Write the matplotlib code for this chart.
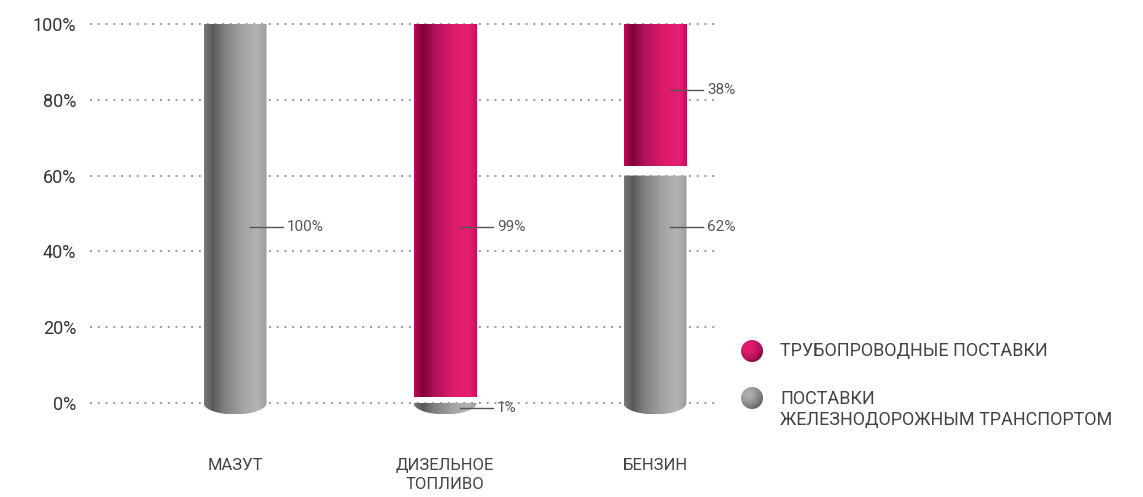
import matplotlib.pyplot as plt
import numpy as np
from matplotlib.colors import LinearSegmentedColormap
from matplotlib.patches import Polygon, Circle

plt.rcParams['font.family'] = ['Roboto', 'DejaVu Sans']

#--------------------------------------------#
# Data
#--------------------------------------------#
categories = ['МАЗУТ', 'ДИЗЕЛЬНОЕ\nТОПЛИВО', 'БЕНЗИН']
rail_share = [100, 1, 62]       # поставки железнодорожным транспортом
pipe_share = [0, 99, 38]        # трубопроводные поставки
series_names = ['ТРУБОПРОВОДНЫЕ ПОСТАВКИ',
                'ПОСТАВКИ\nЖЕЛЕЗНОДОРОЖНЫМ ТРАНСПОРТОМ']
yticks = [0, 20, 40, 60, 80, 100]

# where the value callouts sit (in % of the axis)
rail_label_y = [46.4, -1.3, 46.4]
pipe_label_y = [None, 46.4, 82.6]

#--------------------------------------------#
# Colours: horizontal shading across a cylinder
#--------------------------------------------#
gray_cmap = LinearSegmentedColormap.from_list('cyl_gray', [
    (0.00, '#7a7a7a'), (0.14, '#585858'), (0.30, '#7c7c7c'),
    (0.60, '#a2a2a2'), (0.85, '#b3b3b3'), (1.00, '#9c9c9c')])
pink_cmap = LinearSegmentedColormap.from_list('cyl_pink', [
    (0.00, '#c2075e'), (0.14, '#7e0238'), (0.32, '#b1115a'),
    (0.65, '#dd1c6b'), (0.88, '#e61f70'), (1.00, '#cc0a5f')])
shade = np.linspace(0, 1, 256).reshape(1, -1)

W, H = 1143, 497
fig = plt.figure(figsize=(W / 100, H / 100), dpi=100)

# axis box in pixels: x 90..720, 0% at y=403, 100% at y=24
ppu = (403 - 24) / 100.0
ylo, yhi = -4, 101
ax = fig.add_axes([90 / W, (H - (403 - ylo * ppu)) / H,
                   630 / W, (yhi - ylo) * ppu / H])
x = np.arange(len(categories))
step = 210.0                       # pixels between bar centres
xlim = (-145 / step, 2 + 65 / step)
bw = 63 / step
cap = 3.0                          # depth of the rounded bottom
gap = 2.0

for s in ax.spines.values():
    s.set_visible(False)
ax.set_xticks([])
ax.set_yticks(yticks)
ax.set_yticklabels([f'{v}%' for v in yticks], fontsize=13, color='#333333')
ax.tick_params(axis='y', length=0, pad=10)
ax.hlines(yticks, xlim[0], xlim[1], colors='#9a9a9a',
          linestyles=(0, (1, 3)), linewidth=1.4, zorder=1)


def cylinder(xc, y0, y1, cmap, rounded):
    # gradient image clipped to the bar outline
    left, right = xc - bw / 2, xc + bw / 2
    pts = [(left, y1), (left, y0)]
    if rounded:
        t = np.linspace(np.pi, 2 * np.pi, 60)
        pts += list(zip(xc + bw / 2 * np.cos(t), y0 + cap * np.sin(t)))
    pts += [(right, y0), (right, y1)]
    outline = Polygon(pts, closed=True, facecolor='none', edgecolor='none',
                      transform=ax.transData)
    ax.add_patch(outline)
    bottom = y0 - cap if rounded else y0
    im = ax.imshow(shade, cmap=cmap, aspect='auto', interpolation='bilinear',
                   extent=[left, right, bottom, y1], zorder=2)
    im.set_clip_path(outline)


def callout(xc, y, text):
    ax.plot([xc + 15 / step, xc + 48 / step], [y, y], color='#555555',
            lw=1, zorder=3, clip_on=False)
    ax.text(xc + 52 / step, y, text, fontsize=11, color='#555555',
            va='center', ha='left', clip_on=False)


for i in range(len(categories)):
    rail_top = rail_share[i] - gap if pipe_share[i] > 0 else rail_share[i]
    cylinder(x[i], 0, max(rail_top, 0), gray_cmap, True)
    if pipe_share[i] > 0:
        start = rail_share[i] + gap / 4 if rail_share[i] > 0 else 0
        cylinder(x[i], start, rail_share[i] + pipe_share[i], pink_cmap,
                 rail_share[i] == 0)
    if rail_share[i] > 0:
        callout(x[i], rail_label_y[i], f'{rail_share[i]}%')
    if pipe_share[i] > 0:
        callout(x[i], pipe_label_y[i], f'{pipe_share[i]}%')
    ax.text(x[i], -14.5, categories[i], ha='center', va='top', fontsize=12,
            color='#444444', linespacing=1.3, clip_on=False)

ax.set_xlim(*xlim)
ax.set_ylim(ylo, yhi)

#--------------------------------------------#
# Legend with shaded balls, drawn in pixel space
#--------------------------------------------#
lg = fig.add_axes([0, 0, 1, 1], zorder=5)
lg.set_xlim(0, W)
lg.set_ylim(H, 0)
lg.axis('off')
yy, xx = np.mgrid[-1:1:128j, -1:1:128j]
dist = np.clip(np.hypot(xx + 0.35, yy + 0.35) / 1.6, 0, 1)
for cmap, cy, name in [(pink_cmap, 351, series_names[0]),
                       (gray_cmap, 398, series_names[1])]:
    r = 11
    ball = Circle((752, cy), r, transform=lg.transData, facecolor='none',
                  edgecolor='none')
    lg.add_patch(ball)
    # light from upper-left: bright spot fading to the dark tone
    vals = 0.85 - 0.75 * dist
    im = lg.imshow(vals, cmap=cmap, vmin=0, vmax=1, interpolation='bilinear',
                   extent=[752 - r, 752 + r, cy + r, cy - r])
    im.set_clip_path(ball)
    multi = '\n' in name
    lg.text(780, cy - 8 if multi else cy, name, fontsize=13,
            color='#444444', va='top' if multi else 'center',
            ha='left', linespacing=1.25)

fig.savefig('out.png', dpi=100)
